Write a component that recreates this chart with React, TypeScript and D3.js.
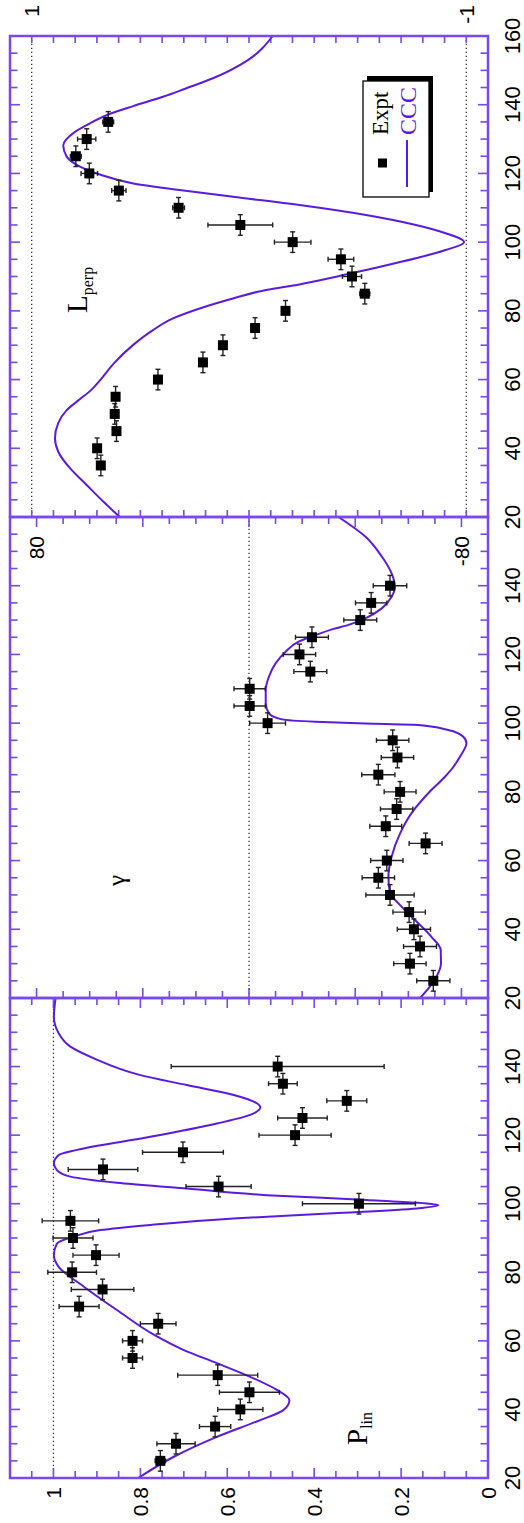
import React from "react";
import * as d3 from "d3";

// Page size; the three panels are laid out side by side in a landscape
// frame that is turned a quarter turn onto the page.
const PAGE_W = 524;
const PAGE_H = 1523;
const V_TOP = 10;
const V_BOTTOM = 488;

const FRAME = "#7a48ef";
const CURVE = "#5a1be0";
const SANS = "'Liberation Sans', Arial, Helvetica, sans-serif";
const SERIF = "'Liberation Serif', 'Times New Roman', Times, serif";

const ANGLE_ERR = 3; // angular resolution (deg) of each measurement

// ---------- P_lin ----------
const plinAngles = [25, 30, 35, 40, 45, 50, 55, 60, 65, 70, 75, 80, 85, 90, 95, 100, 105, 110, 115, 120, 125, 130, 135, 140];
const plinValues = [0.754, 0.718, 0.628, 0.57, 0.549, 0.622, 0.818, 0.818, 0.759, 0.941, 0.887, 0.957, 0.902, 0.955, 0.961, 0.297, 0.62, 0.886, 0.702, 0.444, 0.427, 0.325, 0.472, 0.484];
const plinErrors = [0.012, 0.044, 0.036, 0.052, 0.069, 0.092, 0.023, 0.023, 0.041, 0.046, 0.072, 0.056, 0.053, 0.046, 0.065, 0.13, 0.075, 0.08, 0.093, 0.083, 0.057, 0.046, 0.033, 0.245];
const plinCccAngles = [20, 26.2, 32, 36.9, 39.8, 42.7, 45.7, 49.5, 53.5, 57.3, 61.5, 69, 75.8, 81.6, 85, 88.4, 90.4, 92.3, 93.8, 95.7, 97.2, 98.6, 99.6, 100.3, 101.1, 102.5, 104.5, 106.1, 107.9, 109.8, 111.8, 114.2, 115.7, 119.5, 123.4, 125.9, 128.1, 129.3, 131.7, 134.6, 137.5, 142.4, 145.8, 149.7, 154.5, 160];
const plinCcc = [0.805, 0.723, 0.624, 0.524, 0.471, 0.457, 0.486, 0.547, 0.624, 0.7, 0.765, 0.854, 0.93, 0.988, 0.999, 0.992, 0.953, 0.892, 0.777, 0.586, 0.356, 0.164, 0.114, 0.164, 0.279, 0.509, 0.7, 0.854, 0.961, 0.992, 0.999, 0.988, 0.946, 0.777, 0.624, 0.547, 0.524, 0.532, 0.585, 0.693, 0.8, 0.907, 0.961, 0.988, 0.999, 0.995];
const plinTickLabels = ["0", "0.2", "0.4", "0.6", "0.8", "1"];
const plinTickValues = [0, 0.2, 0.4, 0.6, 0.8, 1];

// ---------- gamma ----------
const gammaAngles = [25, 30, 35, 40, 45, 50, 55, 60, 65, 70, 75, 80, 85, 90, 95, 100, 105, 110, 115, 120, 125, 130, 135, 140];
const gammaValues = [-69.4, -60.6, -64.4, -62.1, -60.3, -53.1, -48.7, -51.9, -66.5, -51.5, -55.6, -56.9, -48.7, -55.9, -54.1, -7.0, -0.25, -0.25, -23.1, -19.0, -23.7, -41.9, -46.0, -53.1];
const gammaErrors = [6.25, 6.1, 6.2, 6.25, 6.1, 9.1, 6.1, 6.1, 6.2, 6.0, 6.1, 6.0, 6.25, 6.1, 6.1, 6.75, 5.9, 5.9, 6.2, 6.1, 6.2, 6.2, 5.9, 6.3];
const gammaCccAngles = [20, 23.3, 26.2, 30.1, 34, 37.8, 42.7, 47.6, 50.5, 55.3, 61.1, 67.9, 73.8, 79.6, 84.4, 87.3, 89.3, 91.7, 94.1, 96.1, 98, 99.5, 99.9, 100.4, 101.1, 102.9, 105.8, 109.6, 113.5, 117.4, 120.8, 123.7, 125.6, 127.3, 128.6, 130.5, 133.4, 136.8, 139.7, 142.1, 144.6, 148.5, 154.3, 160];
const gammaCcc = [-64.4, -68.1, -70.6, -72.3, -72.2, -68.7, -62.5, -56.2, -53.1, -52.5, -53.7, -56.9, -61.2, -67.5, -73.8, -77.0, -78.7, -80.6, -81.9, -80.6, -75, -62.5, -43.8, -25, -12.5, -7.5, -6.3, -6.3, -7.5, -10, -13.8, -18.7, -25, -31.2, -37.5, -43.8, -50, -53.7, -55, -54.4, -53.1, -50, -43.8, -33.7];
const gammaTickLabels = ["80", "-80"];
const gammaTickValues = [80, -80];

// ---------- L_perp ----------
const lperpAngles = [35, 40, 45, 50, 55, 60, 65, 70, 75, 80, 85, 90, 95, 100, 105, 110, 115, 120, 125, 130, 135];
const lperpValues = [0.682, 0.699, 0.61, 0.618, 0.614, 0.419, 0.212, 0.12, -0.028, -0.168, -0.533, -0.474, -0.423, -0.201, 0.04, 0.324, 0.599, 0.735, 0.797, 0.747, 0.648];
const lperpErrors = [0, 0, 0, 0, 0, 0, 0, 0, 0, 0, 0.023, 0.044, 0.059, 0.084, 0.149, 0.027, 0.033, 0.038, 0.025, 0.042, 0.025];
const lperpCccAngles = [20, 24.5, 29.3, 34.2, 39, 42.9, 47.3, 51.1, 54.1, 57, 60, 64.7, 70.1, 74.4, 77.8, 80.7, 83.6, 86.1, 87.7, 89.7, 91.9, 95.3, 97.7, 100, 102.6, 105, 107.9, 110.8, 113.2, 115.2, 117.1, 119.7, 122, 124.9, 128.1, 132.1, 134.6, 137.5, 139.6, 142.3, 144.8, 147.7, 153, 160];
const lperpCcc = [0.595, 0.671, 0.747, 0.824, 0.878, 0.893, 0.878, 0.839, 0.782, 0.726, 0.683, 0.622, 0.533, 0.442, 0.35, 0.227, 0.074, -0.079, -0.232, -0.385, -0.538, -0.768, -0.905, -0.99, -0.905, -0.768, -0.538, -0.232, 0.074, 0.32, 0.533, 0.686, 0.778, 0.839, 0.855, 0.801, 0.732, 0.633, 0.533, 0.396, 0.288, 0.166, 0.005, -0.109];
const lperpTickLabels = ["1", "-1"];
const lperpTickValues = [1, -1];

const angleMinorTicks = d3.range(20, 161, 5);

type PanelProps = {
  u0: number;
  u1: number;
  domain: [number, number];
  valueTicks: number[];
  majorTick: (v: number) => boolean;
  angleLabels: number[];
  labelValues: number[];
  labelTexts: string[];
  labelEndU: number;
  labelSize: number;
  dotted: number[];
  exptAngles: number[];
  exptValues: number[];
  exptErrors: number[];
  cccAngles: number[];
  ccc: number[];
};

function Panel(p: PanelProps) {
  const x = d3.scaleLinear().domain([20, 160]).range([p.u0, p.u1]);
  const y = d3.scaleLinear().domain(p.domain).range([V_BOTTOM, V_TOP]);
  const line = d3
    .line<[number, number]>()
    .x((d) => x(d[0]))
    .y((d) => y(d[1]))
    .curve(d3.curveMonotoneX);
  const curvePts: [number, number][] = p.cccAngles.map((a, i) => [a, p.ccc[i]]);

  return (
    <g>
      {/* reference lines */}
      {p.dotted.map((v) => (
        <line key={"d" + v} x1={p.u0} x2={p.u1} y1={y(v)} y2={y(v)} stroke="#222" strokeWidth={1.2} strokeDasharray="1.3 2.7" />
      ))}

      {/* angle ticks, top and bottom edges */}
      {angleMinorTicks.map((a) => {
        const len = a % 20 === 0 ? 10 : 7.5;
        return (
          <g key={"a" + a}>
            <line x1={x(a)} x2={x(a)} y1={V_BOTTOM} y2={V_BOTTOM - len} stroke={FRAME} strokeWidth={1.6} />
            <line x1={x(a)} x2={x(a)} y1={V_TOP} y2={V_TOP + len} stroke={FRAME} strokeWidth={1.6} />
          </g>
        );
      })}

      {/* value ticks, left and right edges */}
      {p.valueTicks.map((v, i) => {
        const len = p.majorTick(v) ? 10 : 7;
        return (
          <g key={"v" + i}>
            <line x1={p.u0} x2={p.u0 + len} y1={y(v)} y2={y(v)} stroke={FRAME} strokeWidth={1.6} />
            <line x1={p.u1} x2={p.u1 - len} y1={y(v)} y2={y(v)} stroke={FRAME} strokeWidth={1.6} />
          </g>
        );
      })}

      {/* angle labels */}
      {p.angleLabels.map((a) => (
        <text key={"al" + a} x={x(a)} y={520} textAnchor="middle" fontFamily={SANS} fontSize={22} fill="#000">
          {a}
        </text>
      ))}

      {/* value labels */}
      {p.labelValues.map((v, i) => (
        <text
          key={"vl" + i}
          x={p.labelEndU}
          y={y(v) + p.labelSize * 0.36}
          textAnchor="end"
          fontFamily={SANS}
          fontSize={p.labelSize}
          fill="#000"
        >
          {p.labelTexts[i]}
        </text>
      ))}

      {/* CCC curve */}
      <path d={line(curvePts) || ""} fill="none" stroke={CURVE} strokeWidth={2} />

      {/* measurements with error bars */}
      {p.exptAngles.map((a, i) => {
        const u = x(a);
        const v = y(p.exptValues[i]);
        const uL = x(a - ANGLE_ERR);
        const uR = x(a + ANGLE_ERR);
        const err = p.exptErrors[i];
        const vT = y(p.exptValues[i] + err);
        const vB = y(p.exptValues[i] - err);
        return (
          <g key={"e" + i} stroke="#222" strokeWidth={1.4}>
            <line x1={uL} x2={uR} y1={v} y2={v} />
            <line x1={uL} x2={uL} y1={v - 2.5} y2={v + 2.5} />
            <line x1={uR} x2={uR} y1={v - 2.5} y2={v + 2.5} />
            {err > 0 && (
              <g>
                <line x1={u} x2={u} y1={vT} y2={vB} />
                <line x1={u - 2.5} x2={u + 2.5} y1={vT} y2={vT} />
                <line x1={u - 2.5} x2={u + 2.5} y1={vB} y2={vB} />
              </g>
            )}
            <rect x={u - 5} y={v - 5} width={10} height={10} fill="#000" stroke="none" />
          </g>
        );
      })}

      {/* frame */}
      <rect x={p.u0} y={V_TOP} width={p.u1 - p.u0} height={V_BOTTOM - V_TOP} fill="none" stroke={FRAME} strokeWidth={2.5} />
    </g>
  );
}

export default function App() {
  const plinTicks = d3.range(0, 23).map((i) => i * 0.05);
  const gammaTicks = d3.range(-90, 91, 10);
  const lperpTicks = d3.range(-11, 12).map((i) => i / 10);

  return (
    <svg
      width={PAGE_W}
      height={PAGE_H}
      style={{ position: "absolute", left: 0, top: 0, background: "#fff" }}
      xmlns="http://www.w3.org/2000/svg"
    >
      <rect x={0} y={0} width={PAGE_W} height={PAGE_H} fill="#fff" />
      <g transform={`translate(0,${PAGE_H}) rotate(-90)`}>
        <Panel
          u0={45}
          u1={525}
          domain={[0, 1.1]}
          valueTicks={plinTicks}
          majorTick={(v) => Math.abs(v * 5 - Math.round(v * 5)) < 1e-6}
          angleLabels={[20, 40, 60, 80, 100, 120, 140]}
          labelValues={plinTickValues}
          labelTexts={plinTickLabels}
          labelEndU={36}
          labelSize={21}
          dotted={[1]}
          exptAngles={plinAngles}
          exptValues={plinValues}
          exptErrors={plinErrors}
          cccAngles={plinCccAngles}
          ccc={plinCcc}
        />
        <Panel
          u0={525}
          u1={1006}
          domain={[-90, 90]}
          valueTicks={gammaTicks}
          majorTick={(v) => v % 40 === 0}
          angleLabels={[20, 40, 60, 80, 100, 120, 140]}
          labelValues={gammaTickValues}
          labelTexts={gammaTickLabels}
          labelEndU={987}
          labelSize={21}
          dotted={[0]}
          exptAngles={gammaAngles}
          exptValues={gammaValues}
          exptErrors={gammaErrors}
          cccAngles={gammaCccAngles}
          ccc={gammaCcc}
        />
        <Panel
          u0={1006}
          u1={1487}
          domain={[-1.1, 1.1]}
          valueTicks={lperpTicks}
          majorTick={() => false}
          angleLabels={[20, 40, 60, 80, 100, 120, 140, 160]}
          labelValues={lperpTickValues}
          labelTexts={lperpTickLabels}
          labelEndU={1518}
          labelSize={21}
          dotted={[1, -1]}
          exptAngles={lperpAngles}
          exptValues={lperpValues}
          exptErrors={lperpErrors}
          cccAngles={lperpCccAngles}
          ccc={lperpCcc}
        />

        {/* panel titles */}
        <text x={78} y={367} fontFamily={SERIF} fontSize={29} fill="#000">
          P
          <tspan fontSize={16} dy={5}>lin</tspan>
        </text>
        <text x={637} y={125} fontFamily={SERIF} fontSize={25} fill="#000">
          γ
        </text>
        <text x={1210} y={87} fontFamily={SERIF} fontSize={29} fill="#000">
          L
          <tspan fontSize={16} dy={6}>perp</tspan>
        </text>

        {/* legend */}
        <rect x={1331} y={367} width={116} height={66} fill="#000" />
        <rect x={1326} y={363} width={116} height={66} fill="#fff" stroke="#000" strokeWidth={1.3} />
        <rect x={1355.5} y={378} width={9} height={9} fill="#000" />
        <text x={1388} y={388} fontFamily={SERIF} fontSize={23} fill="#000">
          Expt
        </text>
        <line x1={1336} x2={1383} y1={407} y2={407} stroke={CURVE} strokeWidth={2} />
        <text x={1388} y={416} fontFamily={SERIF} fontSize={24} fill={CURVE}>
          CCC
        </text>
      </g>
    </svg>
  );
}
